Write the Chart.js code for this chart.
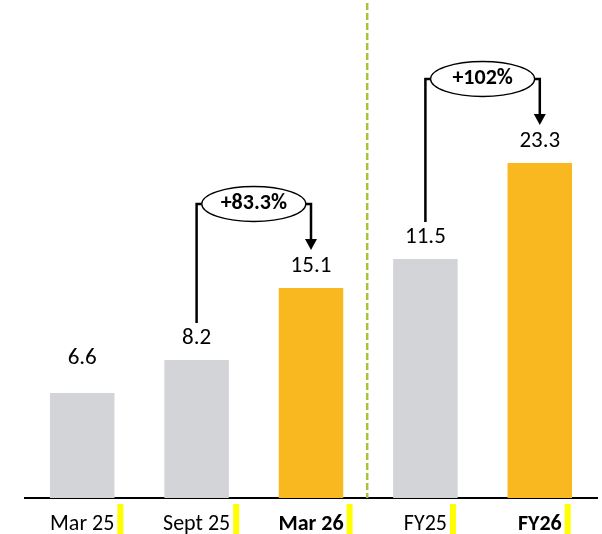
<!DOCTYPE html>
<html>
<head>
<meta charset="utf-8">
<script src="https://cdn.jsdelivr.net/npm/chart.js@4.4.1/dist/chart.umd.min.js"></script>
<style>
  html, body { margin: 0; padding: 0; background: #fff; }
  #wrap { width: 602px; height: 534px; }
</style>
</head>
<body>
<div id="wrap"><canvas id="chart"></canvas></div>
<script>
const categories = ['Mar 25', 'Sept 25', 'Mar 26', 'FY25', 'FY26']
const values = ['6.6', '8.2', '15.1', '11.5', '23.3']
// bars in the reference are not drawn to scale, so heights are read off the picture
const barHeights = [10.5, 13.8, 21.0, 23.9, 33.5]
const boldTicks = [false, false, true, false, true]
const growth = [
    { from: 1, to: 2, text: '+83.3%' },
    { from: 3, to: 4, text: '+102%' }
]

const GREY = '#D3D4D8'
const ORANGE = '#F9B81F'
const FONT = 'Carlito, Lato, "Open Sans", sans-serif'

const overlay = {
    id: 'overlay',
    afterDatasetsDraw(chart) {
        const ctx = chart.ctx
        const area = chart.chartArea
        const bars = chart.getDatasetMeta(0).data
        const xs = chart.scales.x

        // dashed divider between half-year and full-year groups
        const divX = (bars[2].x + bars[3].x) / 2 - 1
        ctx.save()
        ctx.strokeStyle = '#A6C43A'
        ctx.lineWidth = 2.5
        ctx.setLineDash([7, 3])
        ctx.beginPath()
        ctx.moveTo(divX, area.top + 3)
        ctx.lineTo(divX, area.bottom)
        ctx.stroke()
        ctx.restore()

        // value labels
        const labelY = bars.map((b, i) => b.y - 22 - (i === 0 ? 13 : 0))
        ctx.save()
        ctx.fillStyle = '#000'
        ctx.font = '23px ' + FONT
        ctx.textAlign = 'center'
        ctx.textBaseline = 'middle'
        bars.forEach((b, i) => ctx.fillText(values[i], b.x, labelY[i]))
        ctx.restore()

        // growth call-outs
        growth.forEach(g => {
            const x1 = bars[g.from].x
            const x2 = bars[g.to].x
            const yE = bars[g.to].y - 84
            const cx = (x1 + x2) / 2
            const rx = 52, ry = 17.5
            const tipY = labelY[g.to] - 16
            ctx.save()
            ctx.strokeStyle = '#000'
            ctx.lineWidth = 2.5
            ctx.beginPath()
            ctx.moveTo(x1, labelY[g.from] - 15)
            ctx.lineTo(x1, yE)
            ctx.lineTo(cx - rx, yE)
            ctx.moveTo(cx + rx, yE)
            ctx.lineTo(x2, yE)
            ctx.lineTo(x2, tipY - 8)
            ctx.stroke()
            ctx.fillStyle = '#000'
            ctx.beginPath()
            ctx.moveTo(x2 - 6, tipY - 11)
            ctx.lineTo(x2 + 6, tipY - 11)
            ctx.lineTo(x2, tipY)
            ctx.closePath()
            ctx.fill()
            ctx.beginPath()
            ctx.ellipse(cx, yE, rx, ry, 0, 0, Math.PI * 2)
            ctx.fillStyle = '#fff'
            ctx.fill()
            ctx.lineWidth = 1.3
            ctx.stroke()
            ctx.fillStyle = '#000'
            ctx.font = 'bold 22px ' + FONT
            ctx.textAlign = 'center'
            ctx.textBaseline = 'middle'
            ctx.fillText(g.text, cx, yE - 1)
            ctx.restore()
        })

        // yellow highlight marks after each category label
        ctx.save()
        ctx.fillStyle = '#FFFF00'
        categories.forEach((c, i) => {
            ctx.font = (boldTicks[i] ? 'bold ' : '') + '22px ' + FONT
            const w = ctx.measureText(c).width
            const x = xs.getPixelForValue(i) - 2 + w / 2 + 5
            ctx.fillRect(x, area.bottom + 6, 6, 30)
        })
        ctx.restore()
    }
}

const config = {
    type: 'bar',
    data: {
        labels: categories,
        datasets: [{
            data: barHeights,
            backgroundColor: [GREY, GREY, ORANGE, GREY, ORANGE],
            categoryPercentage: 1,
            barPercentage: 0.564
        }]
    },
    options: {
        responsive: false,
        animation: false,
        layout: { padding: { left: 25, right: 5, top: 0, bottom: 0 } },
        scales: {
            x: {
                grid: { display: false },
                border: { color: '#000', width: 2 },
                afterFit: (scale) => { scale.height = 36 },
                ticks: {
                    color: '#000',
                    padding: 5,
                    font: (c) => ({ family: FONT, size: 22, weight: boldTicks[c.index] ? 'bold' : 'normal' })
                }
            },
            y: {
                display: false,
                min: 0,
                max: 49.8
            }
        },
        plugins: {
            legend: { display: false },
            tooltip: { enabled: false }
        }
    },
    plugins: [overlay]
}

const canvas = document.getElementById('chart')
canvas.width = 602
canvas.height = 534
new Chart(canvas, config)
</script>
</body>
</html>
